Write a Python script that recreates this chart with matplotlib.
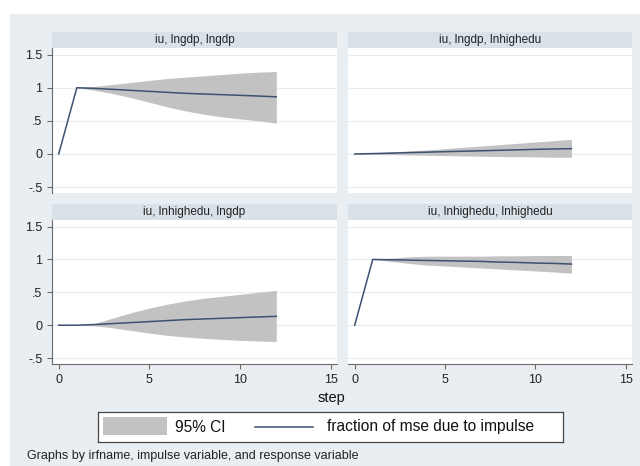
import numpy as np
import matplotlib
matplotlib.use("Agg")
import matplotlib.pyplot as plt
from matplotlib.patches import Rectangle

plt.rcParams['font.family'] = ['Liberation Sans', 'DejaVu Sans']

# FEVD: steps 0..12
steps = list(range(13))

titles = ["iu, lngdp, lngdp", "iu, lngdp, lnhighedu",
          "iu, lnhighedu, lngdp", "iu, lnhighedu, lnhighedu"]

fevd_gdp_gdp = [0, 1, 0.99, 0.975, 0.96, 0.945, 0.93, 0.915, 0.905, 0.895, 0.885, 0.875, 0.862]
upper_gdp_gdp = [0, 1, 1.02, 1.05, 1.08, 1.11, 1.14, 1.16, 1.18, 1.20, 1.22, 1.235, 1.245]
lower_gdp_gdp = [0, 1, 0.96, 0.91, 0.85, 0.78, 0.71, 0.65, 0.60, 0.56, 0.53, 0.50, 0.465]

fevd_gdp_edu = [0, 0.005, 0.012, 0.02, 0.027, 0.034, 0.041, 0.048, 0.055, 0.062, 0.069, 0.075, 0.08]
upper_gdp_edu = [0, 0.015, 0.03, 0.045, 0.06, 0.08, 0.10, 0.12, 0.14, 0.16, 0.18, 0.20, 0.22]
lower_gdp_edu = [0, -0.005, -0.01, -0.015, -0.02, -0.025, -0.03, -0.035, -0.04, -0.04, -0.045, -0.05, -0.05]

fevd_edu_gdp = [0, 0, 0.01, 0.025, 0.04, 0.055, 0.07, 0.085, 0.095, 0.105, 0.115, 0.125, 0.135]
upper_edu_gdp = [0, 0, 0.03, 0.11, 0.19, 0.26, 0.32, 0.37, 0.41, 0.44, 0.47, 0.50, 0.53]
lower_edu_gdp = [0, 0, -0.01, -0.04, -0.08, -0.12, -0.155, -0.18, -0.20, -0.215, -0.23, -0.24, -0.25]

fevd_edu_edu = [0, 1, 0.995, 0.99, 0.985, 0.98, 0.975, 0.97, 0.96, 0.955, 0.945, 0.94, 0.93]
upper_edu_edu = [0, 1, 1.02, 1.04, 1.05, 1.05, 1.05, 1.05, 1.055, 1.055, 1.06, 1.06, 1.06]
lower_edu_edu = [0, 1, 0.97, 0.94, 0.915, 0.90, 0.885, 0.87, 0.855, 0.84, 0.825, 0.81, 0.79]

series = [(fevd_gdp_gdp, upper_gdp_gdp, lower_gdp_gdp),
          (fevd_gdp_edu, upper_gdp_edu, lower_gdp_edu),
          (fevd_edu_gdp, upper_edu_gdp, lower_edu_gdp),
          (fevd_edu_edu, upper_edu_edu, lower_edu_edu)]

yticks = [-0.5, 0, 0.5, 1, 1.5]
ytick_labels = ["-.5", "0", ".5", "1", "1.5"]
xticks = [0, 5, 10, 15]

W, H = 640, 466
BG = '#e9eef2'
STRIP = '#d9e2e9'
BAND = '#c2c2c2'
LINE = '#3d5170'
AXC = '#6a6a6a'

fig = plt.figure(figsize=(W / 100, H / 100), dpi=100)
fig.patch.set_facecolor('white')


def px(x0, y0, x1, y1):
    return [x0 / W, 1 - y1 / H, (x1 - x0) / W, (y1 - y0) / H]


# outer graph region
fig.patches.append(Rectangle((10 / W, 0), 1, 1 - 14 / H, transform=fig.transFigure,
                             facecolor=BG, edgecolor='none', zorder=-10))

cols = [(52, 337), (348, 632)]
rows = [(32, 48, 193), (204, 220, 364)]

for k in range(4):
    r, c = divmod(k, 2)
    x0, x1 = cols[c]
    st, y0, y1 = rows[r]
    # title strip
    sax = fig.add_axes(px(x0, st, x1, y0))
    sax.set_facecolor(STRIP)
    sax.set_xticks([]); sax.set_yticks([])
    for s in sax.spines.values():
        s.set_visible(False)
    sax.text(0.5, 0.5, titles[k], ha='center', va='center', fontsize=8.5,
             color='#222222', transform=sax.transAxes)

    ax = fig.add_axes(px(x0, y0, x1, y1))
    ax.set_facecolor('white')
    line, up, lo = series[k]
    ax.fill_between(steps, lo, up, color=BAND, lw=0, zorder=2)
    ax.plot(steps, line, color=LINE, lw=1.1, zorder=3)
    ax.set_xlim(-0.37, 15.35)
    ax.set_ylim(-0.59, 1.6)
    ax.set_yticks(yticks)
    ax.set_xticks(xticks)
    ax.grid(axis='y', color='#e6ecf0', lw=0.8, zorder=0)
    for s in ax.spines.values():
        s.set_visible(False)
    ax.tick_params(colors=AXC, labelcolor='#222222', labelsize=9, length=3.5, width=0.8)
    if c == 0:
        ax.spines['left'].set_visible(True)
        ax.spines['left'].set_color(AXC)
        ax.set_yticklabels(ytick_labels)
    else:
        ax.tick_params(axis='y', left=False, labelleft=False)
    if r == 1:
        ax.spines['bottom'].set_visible(True)
        ax.spines['bottom'].set_color(AXC)
    else:
        ax.tick_params(axis='x', bottom=False, labelbottom=False)

fig.text(331 / W, 1 - 398 / H, "step", ha='center', va='center', fontsize=10.5, color='#111111')

# legend
lax = fig.add_axes(px(98, 412, 563, 442))
lax.set_xlim(98, 563)
lax.set_ylim(442, 412)
lax.set_facecolor('white')
lax.set_xticks([]); lax.set_yticks([])
for s in lax.spines.values():
    s.set_color('#444444')
    s.set_linewidth(0.9)
lax.add_patch(Rectangle((103, 417), 64, 18, facecolor=BAND, edgecolor='none'))
lax.text(175, 427, "95% CI", ha='left', va='center', fontsize=11.2, color='#111111')
lax.plot([255, 313], [427, 427], color=LINE, lw=1.1)
lax.text(327, 427, "fraction of mse due to impulse", ha='left', va='center', fontsize=11.2, color='#111111')

fig.text(27 / W, 1 - 456 / H, "Graphs by irfname, impulse variable, and response variable",
         ha='left', va='center', fontsize=9, color='#222222')

fig.savefig('out.png', dpi=100)
